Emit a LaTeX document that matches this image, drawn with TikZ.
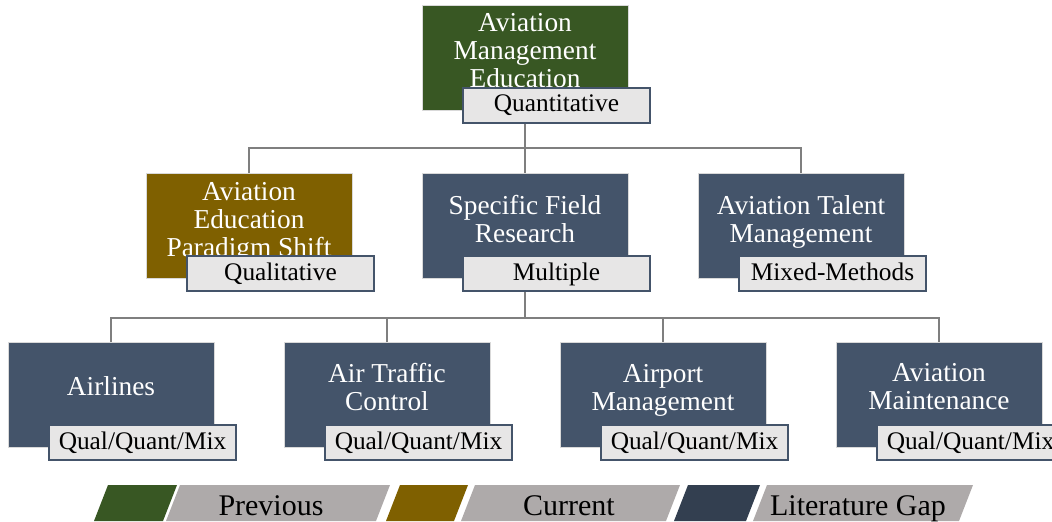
\documentclass[tikz,border=0pt]{standalone}
\usepackage{fontspec}
\setmainfont{Liberation Serif}
\usepackage{xcolor}
\usepackage{tikz}
\definecolor{prevgreen}{RGB}{56, 87, 35}
\definecolor{currbrown}{RGB}{127, 96, 0}
\definecolor{gapblue}{RGB}{68, 84, 106}
\definecolor{gapdark}{RGB}{51, 63, 80}
\definecolor{tagfill}{RGB}{231, 230, 230}
\definecolor{legendgray}{RGB}{174, 170, 170}
\definecolor{linkgray}{RGB}{127, 127, 127}
\definecolor{boxedge}{RGB}{217, 217, 217}

\tikzset{
  box/.style={rectangle, draw=boxedge, line width=0.75pt, minimum width=154.5pt, minimum height=78.75pt},
  boxtext/.style={text=white, align=center, inner sep=0pt, font=\fontsize{20.5}{21}\selectfont},
  tag/.style={rectangle, fill=tagfill, draw=gapblue, line width=1.5pt, minimum width=140pt, minimum height=26.25pt, inner sep=0pt, text height=13pt, text depth=3pt, font=\fontsize{19}{20}\selectfont},
  link/.style={draw=linkgray, line width=1.5pt},
  legendtext/.style={inner sep=0pt, anchor=base, font=\fontsize{22.5}{24}\selectfont}
}

\begin{document}
\begin{tikzpicture}[x=0.75pt,y=0.75pt,yscale=-1,xscale=1]
\useasboundingbox (0,0) rectangle (1052,521);

%Shape: Rectangle [top]
\node [box, fill=prevgreen] (ame) at (525,57.5) {};
\node [boxtext] (ame-t) at ([shift={(0,-7)}]ame.center) {Aviation\\Management\\Education};
\node [tag] (ame-q) at ([shift={(31.5,47.5)}]ame.center) {Quantitative};

%Shape: Rectangle [second row]
\node [box, fill=currbrown] (aeps) at (249,225.5) {};
\node [boxtext] (aeps-t) at ([shift={(0,-3.5)}]aeps.center) {Aviation\\Education\\Paradigm Shift};
\node [tag] (aeps-q) at ([shift={(31.5,48)}]aeps.center) {Qualitative};

\node [box, fill=gapblue] (sfr) at (525,225.5) {};
\node [boxtext] (sfr-t) at ([shift={(0,-6.5)}]sfr.center) {Specific Field\\Research};
\node [tag] (sfr-q) at ([shift={(31.5,48)}]sfr.center) {Multiple};

\node [box, fill=gapblue] (atm) at (801,225.5) {};
\node [boxtext] (atm-t) at ([shift={(0,-3.5)}]atm.center) {Aviation Talent\\Management};
\node [tag] (atm-q) at ([shift={(31.5,48)}]atm.center) {Mixed-Methods};

%Shape: Rectangle [third row]
\node [box, fill=gapblue] (air) at (111,395) {};
\node [boxtext] (air-t) at ([shift={(0,-8.5)}]air.center) {Airlines};
\node [tag] (air-q) at ([shift={(31.5,47.5)}]air.center) {Qual/Quant/Mix};

\node [box, fill=gapblue] (atc) at (387,395) {};
\node [boxtext] (atc-t) at ([shift={(0,-8)}]atc.center) {Air Traffic\\Control};
\node [tag] (atc-q) at ([shift={(31.5,47.5)}]atc.center) {Qual/Quant/Mix};

\node [box, fill=gapblue] (apm) at (663,395) {};
\node [boxtext] (apm-t) at ([shift={(0,-5)}]apm.center) {Airport\\Management};
\node [tag] (apm-q) at ([shift={(31.5,47.5)}]apm.center) {Qual/Quant/Mix};

\node [box, fill=gapblue] (avm) at (939,395) {};
\node [boxtext] (avm-t) at ([shift={(0,-8)}]avm.center) {Aviation\\Maintenance};
\node [tag] (avm-q) at ([shift={(31.5,47.5)}]avm.center) {Qual/Quant/Mix};

%Straight Lines [connectors]
\coordinate (bus1) at (525,148);
\coordinate (bus2) at (525,318);
\draw [link] (ame.south |- ame-q.south) -- (bus1);
\draw [link] (aeps.north) |- (bus1) -| (atm.north);
\draw [link] (bus1) -- (sfr.north);
\draw [link] (sfr.south |- sfr-q.south) -- (bus2);
\draw [link] (air.north) |- (bus2) -| (avm.north);
\draw [link] (atc.north) |- (bus2) -| (apm.north);

%Shape: Parallelogram [legend]
\fill [prevgreen] (108,485) -- (177,485) -- (163,521) -- (94,521) -- cycle;
\fill [legendgray] (180,485) -- (390,485) -- (376,521) -- (166,521) -- cycle;
\fill [currbrown] (400,485) -- (468,485) -- (454,521) -- (386,521) -- cycle;
\fill [legendgray] (475,485) -- (680,485) -- (666,521) -- (461,521) -- cycle;
\fill [gapdark] (688,485) -- (760,485) -- (746,521) -- (674,521) -- cycle;
\fill [legendgray] (767,485) -- (973,485) -- (959,521) -- (753,521) -- cycle;

% Text Node
\node [legendtext] (prev) at (271,515) {Previous};
% Text Node
\node [legendtext] (curr) at (569,515) {Current};
% Text Node
\node [legendtext] (gap) at (858,515) {Literature Gap};

\end{tikzpicture}
\end{document}
